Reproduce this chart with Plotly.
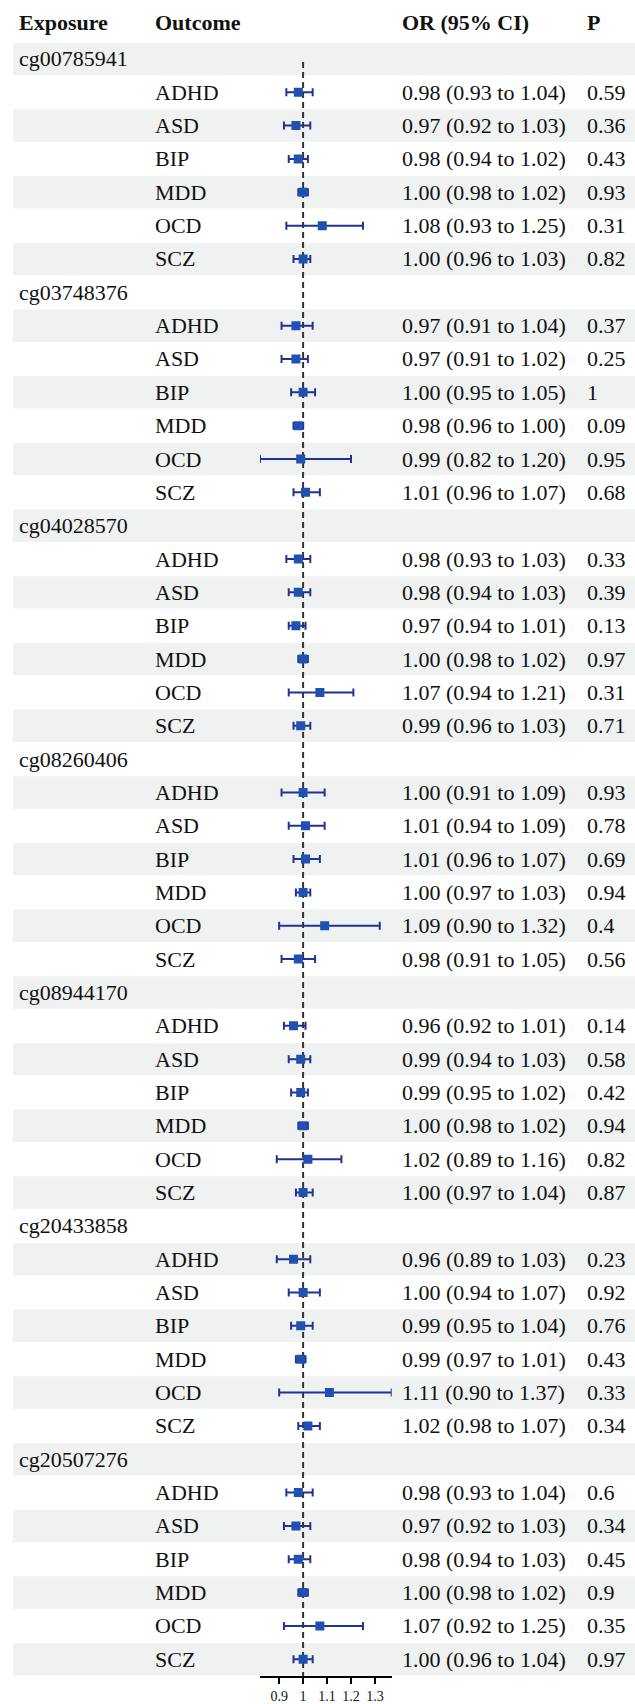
import plotly.graph_objects as go

exposures = ["cg00785941", "cg03748376", "cg04028570", "cg08260406",
             "cg08944170", "cg20433858", "cg20507276"]
outcomes = ["ADHD", "ASD", "BIP", "MDD", "OCD", "SCZ"]

or_vals = [
    [0.98, 0.97, 0.98, 1.00, 1.08, 1.00],
    [0.97, 0.97, 1.00, 0.98, 0.99, 1.01],
    [0.98, 0.98, 0.97, 1.00, 1.07, 0.99],
    [1.00, 1.01, 1.01, 1.00, 1.09, 0.98],
    [0.96, 0.99, 0.99, 1.00, 1.02, 1.00],
    [0.96, 1.00, 0.99, 0.99, 1.11, 1.02],
    [0.98, 0.97, 0.98, 1.00, 1.07, 1.00],
]
lower_vals = [
    [0.93, 0.92, 0.94, 0.98, 0.93, 0.96],
    [0.91, 0.91, 0.95, 0.96, 0.82, 0.96],
    [0.93, 0.94, 0.94, 0.98, 0.94, 0.96],
    [0.91, 0.94, 0.96, 0.97, 0.90, 0.91],
    [0.92, 0.94, 0.95, 0.98, 0.89, 0.97],
    [0.89, 0.94, 0.95, 0.97, 0.90, 0.98],
    [0.93, 0.92, 0.94, 0.98, 0.92, 0.96],
]
upper_vals = [
    [1.04, 1.03, 1.02, 1.02, 1.25, 1.03],
    [1.04, 1.02, 1.05, 1.00, 1.20, 1.07],
    [1.03, 1.03, 1.01, 1.02, 1.21, 1.03],
    [1.09, 1.09, 1.07, 1.03, 1.32, 1.05],
    [1.01, 1.03, 1.02, 1.02, 1.16, 1.04],
    [1.03, 1.07, 1.04, 1.01, 1.37, 1.07],
    [1.04, 1.03, 1.03, 1.02, 1.25, 1.04],
]
p_vals = [
    ["0.59", "0.36", "0.43", "0.93", "0.31", "0.82"],
    ["0.37", "0.25", "1", "0.09", "0.95", "0.68"],
    ["0.33", "0.39", "0.13", "0.97", "0.31", "0.71"],
    ["0.93", "0.78", "0.69", "0.94", "0.4", "0.56"],
    ["0.14", "0.58", "0.42", "0.94", "0.82", "0.87"],
    ["0.23", "0.92", "0.76", "0.43", "0.33", "0.34"],
    ["0.6", "0.34", "0.45", "0.9", "0.35", "0.97"],
]
x_ticks = [0.9, 1, 1.1, 1.2, 1.3]
x_ticklabels = ["0.9", "1", "1.1", "1.2", "1.3"]
ref_value = 1

W, H = 635, 1704
BOTTOM = 26
ROW0_PX = 59.0
ROW_PX = 33.38
PLOT_H = H - BOTTOM

def px_to_row(py):
    return (py - ROW0_PX) / ROW_PX

FONT = "Liberation Serif, Times New Roman, serif"
TXT = "#111111"
LINE_COL = "#1f3296"
MARK_COL = "#2150b0"
BAND = "#eff2f1"

rows = []
for gi, e in enumerate(exposures):
    rows.append(("exp", e, gi, None))
    for oi, o in enumerate(outcomes):
        rows.append(("out", o, gi, oi))

fig = go.Figure()
shapes = []
annotations = []

col_x = {"exp": 18, "out": 154, "or": 401, "p": 586}

def add_text(xpx, row, text, bold=False):
    annotations.append(dict(
        x=(xpx - 1) / W, xref="paper", y=row, yref="y",
        text=("<b>%s</b>" % text) if bold else text,
        showarrow=False, xanchor="left", yanchor="middle",
        font=dict(family=FONT, size=22, color=TXT)))

hdr = px_to_row(22.7)
add_text(col_x["exp"], hdr, "Exposure", True)
add_text(col_x["out"], hdr, "Outcome", True)
add_text(col_x["or"], hdr, "OR (95% CI)", True)
add_text(col_x["p"], hdr, "P", True)

px_x, px_y, err_p, err_m = [], [], [], []
for i, (kind, label, gi, oi) in enumerate(rows):
    if i % 2 == 0:
        shapes.append(dict(type="rect", xref="paper", yref="y",
                           x0=13 / W, x1=1, y0=i - 0.487, y1=i + 0.487,
                           fillcolor=BAND, line=dict(width=0), layer="below"))
    if kind == "exp":
        add_text(col_x["exp"], i, label)
    else:
        o = or_vals[gi][oi]; lo = lower_vals[gi][oi]; up = upper_vals[gi][oi]
        add_text(col_x["out"], i, label)
        add_text(col_x["or"], i, "%.2f (%.2f to %.2f)" % (o, lo, up))
        add_text(col_x["p"], i, p_vals[gi][oi])
        px_x.append(o); px_y.append(i)
        err_p.append(up - o); err_m.append(o - lo)

y_top = px_to_row(0)
y_bot = px_to_row(PLOT_H)

shapes.append(dict(type="line", xref="x", yref="y", x0=ref_value, x1=ref_value,
                   y0=px_to_row(62), y1=y_bot,
                   line=dict(color="#333333", width=2, dash="6px,4px"), layer="below"))

fig.add_trace(go.Scatter(
    x=px_x, y=px_y, mode="markers",
    marker=dict(symbol="square", size=9, color=MARK_COL,
                line=dict(width=0)),
    error_x=dict(type="data", symmetric=False, array=err_p, arrayminus=err_m,
                 color=LINE_COL, thickness=2, width=4),
    hoverinfo="skip", showlegend=False))

fig.update_layout(
    width=W, height=H,
    margin=dict(l=0, r=0, t=0, b=BOTTOM),
    paper_bgcolor="white", plot_bgcolor="rgba(0,0,0,0)",
    shapes=shapes, annotations=annotations,
    xaxis=dict(domain=[260 / W, 391.7 / W], range=[0.82, 1.37],
               showgrid=False, zeroline=False, showline=True,
               linecolor="black", linewidth=1.5,
               ticks="outside", ticklen=6, tickwidth=1.5, tickcolor="black",
               tickvals=x_ticks, ticktext=x_ticklabels,
               tickfont=dict(family=FONT, size=14, color=TXT)),
    yaxis=dict(range=[y_bot, y_top], visible=False, showgrid=False,
               zeroline=False),
)

fig.write_html(
    "out.html",
    config={"displayModeBar": False},
    post_script="document.body.style.margin='0';document.body.style.overflow='hidden';",
)
